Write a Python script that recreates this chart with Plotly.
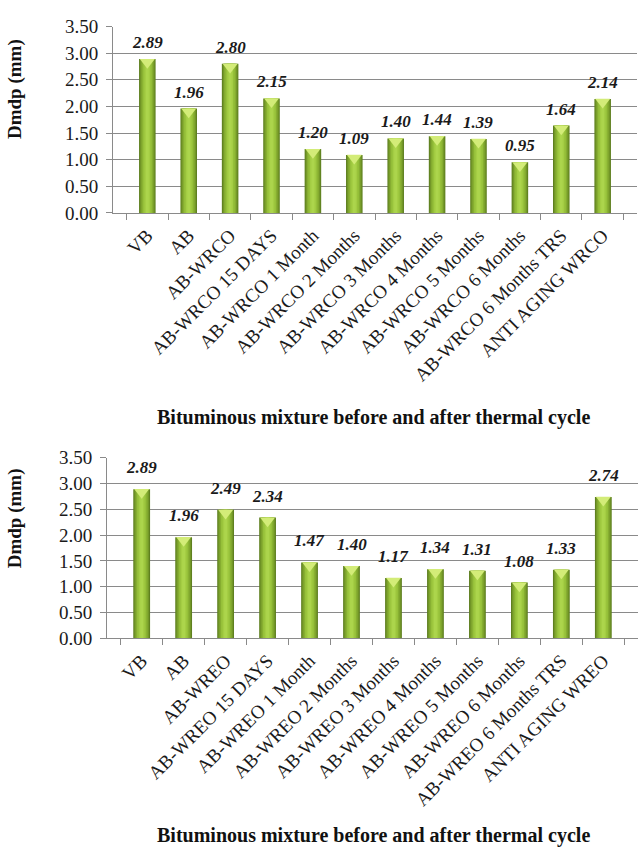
import plotly.graph_objects as go

# ---------------- data ----------------
cats_top = ["VB", "AB", "AB-WRCO", "AB-WRCO 15 DAYS", "AB-WRCO 1 Month",
            "AB-WRCO 2 Months", "AB-WRCO 3 Months", "AB-WRCO 4 Months",
            "AB-WRCO 5 Months", "AB-WRCO 6 Months", "AB-WRCO 6 Months TRS",
            "ANTI AGING WRCO"]
vals_top = [2.89, 1.96, 2.80, 2.15, 1.20, 1.09, 1.40, 1.44, 1.39, 0.95, 1.64, 2.14]

cats_bot = ["VB", "AB", "AB-WREO", "AB-WREO 15 DAYS", "AB-WREO 1 Month",
            "AB-WREO 2 Months", "AB-WREO 3 Months", "AB-WREO 4 Months",
            "AB-WREO 5 Months", "AB-WREO 6 Months", "AB-WREO 6 Months TRS",
            "ANTI AGING WREO"]
vals_bot = [2.89, 1.96, 2.49, 2.34, 1.47, 1.40, 1.17, 1.34, 1.31, 1.08, 1.33, 2.74]

y_tickvals = [0, 0.5, 1.0, 1.5, 2.0, 2.5, 3.0, 3.5]
y_title = "Dmdp (mm)"
x_title = "Bituminous mixture before and after thermal cycle"

# ---------------- style ----------------
W, H = 638, 859
FONT = "Liberation Serif, Times New Roman, serif"
GRID = "#8a8a8a"
layers = [(0.40, "#5f8020"), (0.35, "#739728"), (0.29, "#86ad31"),
          (0.22, "#96c03a"), (0.14, "#a4cd44"), (0.07, "#acd54c")]
TRI_COLOR = "#d3ec78"

panels = [
    dict(cats=cats_top, vals=vals_top, xa="x", ya="y",
         xdom=[113 / W, 637 / W], ydom=[1 - 208 / H, 1 - 17 / H],
         lab_shift=5, ytitle_y=81, xtitle_y=418),
    dict(cats=cats_bot, vals=vals_bot, xa="x2", ya="y2",
         xdom=[107 / W, 638 / W], ydom=[1 - 644 / H, 1 - 459 / H],
         lab_shift=10, ytitle_y=521, xtitle_y=846),
]

fig = go.Figure()
annotations = []

for p in panels:
    px_per_unit = (p["ydom"][1] - p["ydom"][0]) * H / 3.5
    for w, c in layers:
        fig.add_trace(go.Bar(x=p["cats"], y=p["vals"], width=w,
                             marker=dict(color=c, line=dict(width=0)),
                             xaxis=p["xa"], yaxis=p["ya"], showlegend=False,
                             hoverinfo="skip"))
    fig.add_trace(go.Scatter(x=p["cats"], y=[v - 3.2 / px_per_unit for v in p["vals"]],
                             mode="markers",
                             marker=dict(symbol="triangle-down", size=13,
                                         color=TRI_COLOR, line=dict(width=0)),
                             xaxis=p["xa"], yaxis=p["ya"], showlegend=False,
                             hoverinfo="skip"))
    xref = p["xa"]
    yref = p["ya"]
    for c, v in zip(p["cats"], p["vals"]):
        annotations.append(dict(x=c, y=v, xref=xref, yref=yref, text=f"<b><i>{v:.2f}</i></b>",
                                showarrow=False, yanchor="bottom", yshift=p["lab_shift"],
                                font=dict(family=FONT, size=17, color="#1a1a1a")))
    annotations.append(dict(x=15 / W, y=1 - p["ytitle_y"] / H, xref="paper", yref="paper",
                            text=f"<b>{y_title}</b>", textangle=-90, showarrow=False,
                            xanchor="center", yanchor="middle",
                            font=dict(family=FONT, size=19, color="#111")))
    annotations.append(dict(x=373 / W, y=1 - p["xtitle_y"] / H, xref="paper", yref="paper",
                            text=f"<b>{x_title}</b>", showarrow=False,
                            xanchor="center", yanchor="middle",
                            font=dict(family=FONT, size=20, color="#111")))

axis_common_x = dict(type="category", tickangle=-45, showline=True, linecolor=GRID,
                     linewidth=1, ticks="outside", tickson="boundaries", ticklen=6,
                     tickcolor=GRID, showgrid=False, ticklabelstandoff=3,
                     tickfont=dict(family=FONT, size=19, color="#1a1a1a"))
axis_common_y = dict(range=[0, 3.5], tickvals=y_tickvals, tickformat=".2f",
                     showline=True, linecolor=GRID, linewidth=1, ticks="outside",
                     ticklen=6, tickcolor=GRID, showgrid=True, gridcolor=GRID,
                     gridwidth=1, zeroline=False, ticklabelstandoff=4,
                     tickfont=dict(family=FONT, size=19, color="#1a1a1a"))

fig.update_layout(
    width=W, height=H, margin=dict(l=0, r=0, t=0, b=0),
    paper_bgcolor="white", plot_bgcolor="white", barmode="overlay",
    xaxis=dict(domain=panels[0]["xdom"], anchor="y", **axis_common_x),
    yaxis=dict(domain=panels[0]["ydom"], anchor="x", **axis_common_y),
    xaxis2=dict(domain=panels[1]["xdom"], anchor="y2", **axis_common_x),
    yaxis2=dict(domain=panels[1]["ydom"], anchor="x2", **axis_common_y),
    annotations=annotations,
)

fig.write_html("out.html")
